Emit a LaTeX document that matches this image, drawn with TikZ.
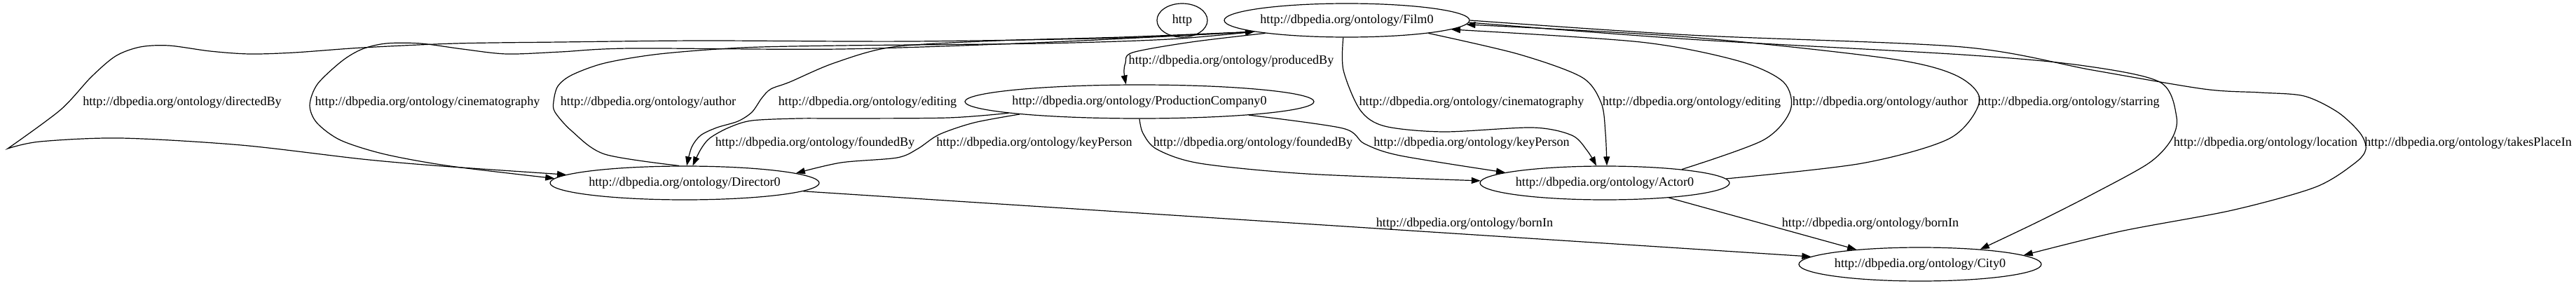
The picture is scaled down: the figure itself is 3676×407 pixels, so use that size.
\documentclass[tikz,border=0pt]{standalone}
\usepackage{fontspec}
\setmainfont{Liberation Serif}
\usetikzlibrary{arrows.meta, shapes.geometric}

\newcommand{\dbo}[1]{http://dbpedia.org/ontology/#1}

\begin{document}
\begin{tikzpicture}[
    x=1pt, y=-1pt,
    >={Triangle[length=13pt, width=9pt]},
    font=\fontsize{18.15}{20}\selectfont,
    entity/.style={
        ellipse, draw=black, line width=1.2pt,
        minimum height=48pt, inner xsep=-6pt, inner ysep=0pt
    },
    rellabel/.style={anchor=base, inner sep=0pt},
    arrstyle/.style={->, line width=1.2pt, black},
]
\useasboundingbox (0,0) rectangle (3676,407);

% ---- Entities ----
\node[entity, minimum width=72pt]  (http)     at (1687,29)  {http};
\node[entity, minimum width=350pt] (film)     at (1922,29)  {\dbo{Film0}};
\node[entity, minimum width=498pt] (prodco)   at (1626,145) {\dbo{ProductionCompany0}};
\node[entity, minimum width=384pt] (director) at (977,261)  {\dbo{Director0}};
\node[entity, minimum width=356pt] (actor)    at (2290,261) {\dbo{Actor0}};
\node[entity, minimum width=346pt] (city)     at (2740,377) {\dbo{City0}};

% ---- Film0 -> Director0 ----
\draw[arrstyle] plot[smooth] coordinates {(film.187) (1600,54) (1300,59) (1000,58)
    (800,60) (650,62) (517,68) (420,75) (356,77) (300,73) (241,65) (200,67) (165,80)
    (130,110) (86,157) (11,212)}
    -- plot[smooth] coordinates {(11,212) (57,202) (172,197) (344,207) (517,227)
    (631,237) (director.176.6)};
\draw[arrstyle] plot[smooth] coordinates {(film.187) (1500,60) (1200,70) (900,69)
    (800,74) (723,77) (660,70) (600,62) (551,62) (517,70) (488,87) (453,120) (442,150)
    (452,175) (486,200) (549,220) (643,237) (director.178.5)};
\draw[arrstyle] plot[smooth] coordinates {(director.108) (863,220) (816,187) (792,160)
    (790,145) (796,123) (816,107) (863,90) (941,77) (1059,68) (1200,65) (1486,62)
    (1668,56) (film.187)};
\draw[arrstyle] plot[smooth] coordinates {(film.187) (1600,53) (1425,58) (1274,67)
    (1190,90) (1127,117) (1100,127) (1087,140) (1073,160) (1053,173) (1023,182)
    (1000,193) (987,210) (director.83)};

% ---- Film0 -> ProductionCompany0 ----
\draw[arrstyle] plot[smooth] coordinates {(film.189) (1700,60) (1616,75) (1606,90)
    (1604,103) (prodco.128.4)};

% ---- ProductionCompany0 -> Director0 / Actor0 ----
\draw[arrstyle] plot[smooth] coordinates {(prodco.185) (1353,168) (1200,169) (1140,169)
    (1073,172) (1040,182) (1013,197) (1000,213) (director.65.4)};
\draw[arrstyle] plot[smooth] coordinates {(prodco.186) (1390,175) (1340,192) (1310,212)
    (1280,225) (1200,232) (director.5.6)};
\draw[arrstyle] plot[smooth] coordinates {(prodco.270) (1631,190) (1651,213) (1712,233)
    (1865,248) (actor.179)};
\draw[arrstyle] plot[smooth] coordinates {(prodco.353.3) (1916,183) (1947,205)
    (1998,222) (actor.174.4)};

% ---- Film0 <-> Actor0 ----
\draw[arrstyle] plot[smooth] coordinates {(film.258) (1917,100) (1941,157) (1976,180)
    (2060,188) (2187,182) (2243,193) (2265,215) (actor.116.6)};
\draw[arrstyle] plot[smooth] coordinates {(film.351.3) (2166,77) (2257,110) (2285,147)
    (2291,190) (actor.83)};
\draw[arrstyle] plot[smooth] coordinates {(actor.10.3) (2516,200) (2555,157) (2545,117)
    (2481,87) (2341,60) (film.355.8)};
\draw[arrstyle] plot[smooth] coordinates {(actor.2.1) (2657,233) (2783,197) (2825,143)
    (2790,107) (2692,83) (2411,53) (film.358.7)};

% ---- Film0 -> City0 ----
\draw[arrstyle] plot[smooth] coordinates {(film.359.5) (2411,56) (2800,78) (2968,93)
    (3082,117) (3106,167) (3098,200) (3066,233) (2986,277) (2907,317) (city.14.4)};
\draw[arrstyle] plot[smooth] coordinates {(film.0.5) (2411,50) (2800,67) (2986,100)
    (3145,127) (3225,132) (3288,137) (3336,160) (3368,190) (3376,213) (3360,233)
    (3304,267) (3185,300) (3026,330) (city.5.3)};

% ---- bornIn ----
\draw[arrstyle] (director.356.1) -- (city.176.7);
\draw[arrstyle] (actor.347.2) -- (city.167);

% ---- Edge labels ----
\node[rellabel] (ldirected) at (260,150)  {\dbo{directedBy}};
\node[rellabel] (lcinema1)  at (610,150)  {\dbo{cinematography}};
\node[rellabel] (lauthor1)  at (925,150)  {\dbo{author}};
\node[rellabel] (lediting1) at (1238,150) {\dbo{editing}};
\node[rellabel] (lproduced) at (1757,91)  {\dbo{producedBy}};
\node[rellabel] (lcinema2)  at (2100,150) {\dbo{cinematography}};
\node[rellabel] (lediting2) at (2414,150) {\dbo{editing}};
\node[rellabel] (lauthor2)  at (2683,150) {\dbo{author}};
\node[rellabel] (lstarring) at (2952,150) {\dbo{starring}};
\node[rellabel] (lfounded1) at (1163,208) {\dbo{foundedBy}};
\node[rellabel] (lkey1)     at (1476,208) {\dbo{keyPerson}};
\node[rellabel] (lfounded2) at (1788,208) {\dbo{foundedBy}};
\node[rellabel] (lkey2)     at (2100,208) {\dbo{keyPerson}};
\node[rellabel] (llocation) at (3233,208) {\dbo{location}};
\node[rellabel] (ltakes)    at (3522,208) {\dbo{takesPlaceIn}};
\node[rellabel] (lborn1)    at (2090,323) {\dbo{bornIn}};
\node[rellabel] (lborn2)    at (2669,323) {\dbo{bornIn}};

\end{tikzpicture}
\end{document}
